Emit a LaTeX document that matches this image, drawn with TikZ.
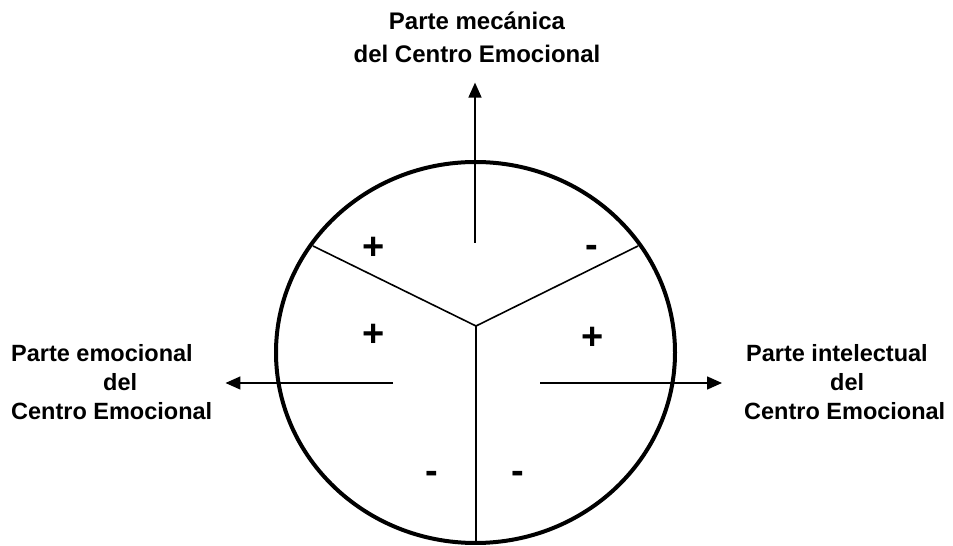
\documentclass[tikz,border=0pt]{standalone}
\usepackage{fontspec}
\setmainfont{Liberation Sans}
\usetikzlibrary{arrows.meta,shapes.geometric}
\begin{document}
\begin{tikzpicture}[x=1pt, y=1pt,
    thinline/.style={line width=1.6pt},
    partarrow/.style={line width=1.6pt, -{Triangle[length=15pt, width=13pt]}},
    partlabel/.style={font=\fontsize{23.5}{29}\selectfont\bfseries, align=left, inner sep=0pt},
    signmark/.style={font=\fontsize{38}{38}\selectfont\bfseries, anchor=base, inner sep=0pt}]
  \useasboundingbox (0,0) rectangle (953,546);

  % the centre, drawn as a thick circle
  \node (centre) [draw, ellipse, line width=4pt, minimum width=399pt, minimum height=381pt,
                  inner sep=0pt] at (475.5,193.5) {};

  % three parts
  \coordinate (hub)   at (476,220);
  \coordinate (rimL)  at (313,300);
  \coordinate (rimR)  at (638,300);
  \coordinate (rimB)  at (476,3);
  \draw[thinline] (hub) -- (rimL);
  \draw[thinline] (hub) -- (rimR);
  \draw[thinline] (hub) -- (rimB);

  % labels
  \node (mech) [partlabel, align=center, font=\fontsize{24}{33}\selectfont\bfseries]
               at (477,509) {Parte mecánica\\del Centro Emocional};
  \node (emo)  [partlabel, anchor=west] at (11,164)
               {Parte emocional\\\hspace*{92pt}del\\Centro Emocional};
  \node (int)  [partlabel, anchor=west] at (744,164)
               {\hspace*{2pt}Parte intelectual\\\hspace*{86pt}del\\Centro Emocional};

  % arrows out of the circle
  \coordinate (startT) at (475,303);
  \coordinate (startL) at (393,163);
  \coordinate (startR) at (540,163);
  \draw[partarrow] (startT) -- ([yshift=-20pt]startT |- mech.south);
  \draw[partarrow] (startL) -- ([xshift=13pt]startL -| emo.east);
  \draw[partarrow] (startR) -- ([xshift=-22pt]startR -| int.west);

  % signs
  \node (pTL) [signmark] at (374,286) {+};
  \node (mTR) [signmark] at (592,288.5) {-};
  \node (pML) [signmark] at (374,199) {+};
  \node (pMR) [signmark] at (593,196) {+};
  \node (mBL) [signmark] at (432,62.5) {-};
  \node (mBR) [signmark] at (518,62.5) {-};
\end{tikzpicture}
\end{document}
